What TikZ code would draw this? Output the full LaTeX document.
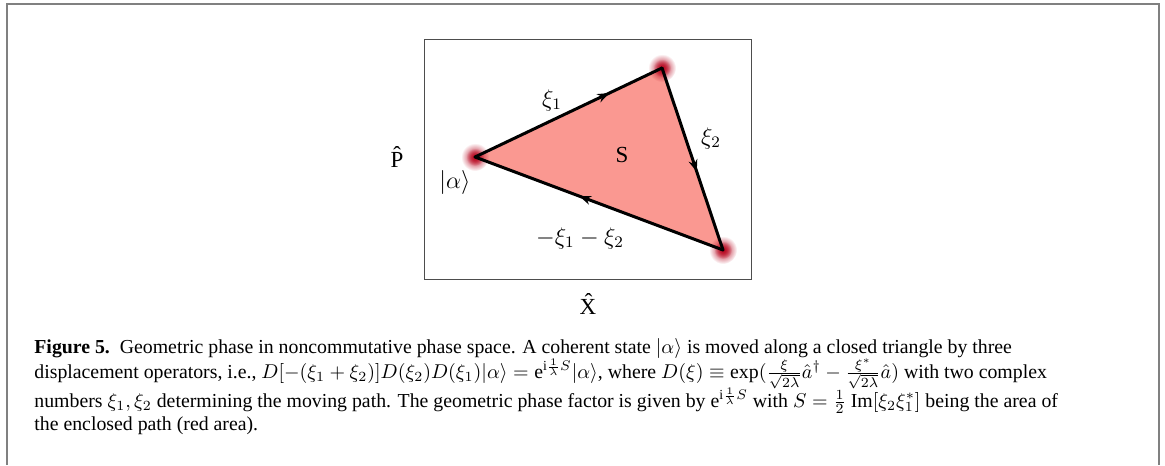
\documentclass[tikz,border=0pt]{standalone}
\usepackage{fontspec}
\setmainfont{Liberation Serif}
\usepackage{amsmath}
\definecolor{phred}{HTML}{B80A22}
\definecolor{phfill}{HTML}{FA9891}
\definecolor{frgray}{HTML}{808080}
\usetikzlibrary{arrows.meta, positioning, decorations.markings, fadings}
\tikzfading[name=glow, inner color=transparent!0, outer color=transparent!100]

\begin{document}
\begin{tikzpicture}[x=0.5pt, y=-0.5pt,
  edge/.style={line width=1.5pt, line cap=round, black},
  mid/.style={postaction={decorate, decoration={markings,
              mark=at position #1 with {\arrow{Stealth[length=6pt, width=4.5pt]}}}}},
  lbl/.style={font=\fontsize{11.5}{13}\selectfont, inner sep=0pt},
  captext/.style={anchor=base west, inner sep=0pt, font=\fontsize{9.9}{12}\selectfont},
]
  \useasboundingbox (0,0) rectangle (1165,465);
  \draw[frgray, line width=1pt] (7,465) -- (7,4.5) -- (1159,4.5) -- (1159,465);
  \draw[frgray!60!black, line width=0.5pt] (424,40) rectangle (751,279);
  \coordinate (A) at (475,157);
  \coordinate (B) at (662,68);
  \coordinate (C) at (723,250);
  \fill[phfill] (A) -- (B) -- (C) -- cycle;
  \foreach \v in {A,B,C}{
    \fill[phred, path fading=glow] (\v) circle[radius=14];
    \fill[phred, path fading=glow] (\v) circle[radius=9];
  }
  \draw[edge, mid=0.72] (A) -- (B);
  \draw[edge, mid=0.57] (B) -- (C);
  \draw[edge, mid=0.58] (C) -- (A);
  \node[lbl] (p) at (397,157) {\^{P}};
  \node[lbl] (x) at (588,304) {\^{X}};
  \node[lbl] (s) at (622,155) {S};
  \node[lbl] (xi1) at (552,100) {$\xi_1$};
  \node[lbl] (xi2) at (711,138) {$\xi_2$};
  \node[lbl] (xi12) at (580,238) {$-\xi_1-\xi_2$};
  \node[lbl] (alpha) at (455,182) {$|\alpha\rangle$};
  \node[captext] (cap1) at (34,353) {\textbf{Figure 5.}\enspace Geometric phase in noncommutative phase space. A coherent state $|\alpha\rangle$ is moved along a closed triangle by three};
  \node[captext] (cap2) at (34,378) {displacement operators, i.e., $D[-(\xi_1+\xi_2)]D(\xi_2)D(\xi_1)|\alpha\rangle=\mathrm{e}^{\mathrm{i}\frac{1}{\lambda}S}|\alpha\rangle$, where $D(\xi)\equiv\exp(\frac{\xi}{\sqrt{2\lambda}}\hat{a}^\dagger-\frac{\xi^*}{\sqrt{2\lambda}}\hat{a})$ with two complex};
  \node[captext] (cap3) at (34,407) {numbers $\xi_1,\xi_2$ determining the moving path. The geometric phase factor is given by $\mathrm{e}^{\mathrm{i}\frac{1}{\lambda}S}$ with $S=\frac{1}{2}\ \mathrm{Im}[\xi_2\xi_1^*]$ being the area of};
  \node[captext] (cap4) at (34,430) {the enclosed path (red area).};
\end{tikzpicture}
\end{document}
